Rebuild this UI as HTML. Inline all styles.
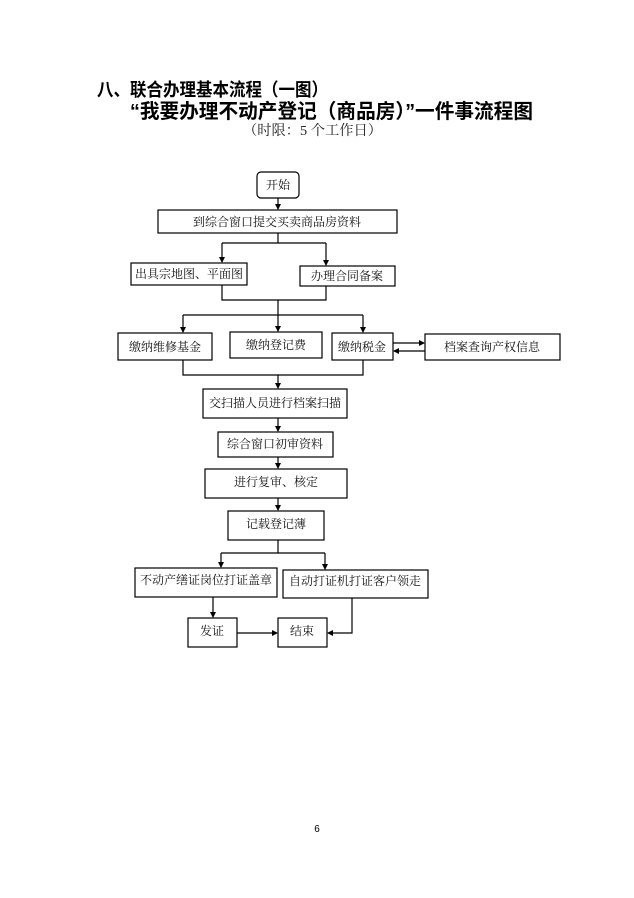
<!DOCTYPE html>
<html><head><meta charset="utf-8"><style>
html,body{margin:0;padding:0;background:#fff;}
svg{display:block}
.t{font-family:"Liberation Serif","Noto Serif CJK SC",serif;font-size:12px;fill:#111;text-anchor:middle}
.h{font-family:"Liberation Sans","Noto Sans CJK SC",sans-serif;font-weight:bold;fill:#000}
</style></head><body>
<svg width="634" height="898" viewBox="0 0 634 898" xmlns="http://www.w3.org/2000/svg">
<defs><marker id="a" markerWidth="6" markerHeight="6" refX="5" refY="3" orient="auto" markerUnits="userSpaceOnUse"><path d="M0,0 L6,3 L0,6 z" fill="#000"/></marker></defs>
<text class="h" x="97" y="96" font-size="18" textLength="231" lengthAdjust="spacingAndGlyphs">八、联合办理基本流程（一图）</text>
<text class="h" x="130" y="118" font-size="20" textLength="403" lengthAdjust="spacingAndGlyphs">“我要办理不动产登记（商品房）”一件事流程图</text>
<text x="243" y="135" font-size="14" textLength="139" lengthAdjust="spacingAndGlyphs" font-family="Liberation Serif,Noto Serif CJK SC,serif" fill="#222">（时限：5 个工作日）</text>
<g fill="none" stroke="#000" stroke-width="1.2">
<rect x="257" y="172" width="42" height="26" rx="4"/>
<rect x="158" y="210" width="239" height="23"/>
<rect x="131" y="263" width="116" height="22"/>
<rect x="300" y="266" width="95" height="20"/>
<rect x="118" y="333" width="94" height="27"/>
<rect x="230" y="332" width="92" height="26"/>
<rect x="332" y="333" width="61" height="27"/>
<rect x="425" y="334" width="135" height="26"/>
<rect x="203" y="389" width="144" height="29"/>
<rect x="218" y="432" width="115" height="25"/>
<rect x="205" y="469" width="142" height="29"/>
<rect x="228" y="511" width="96" height="29"/>
<rect x="135" y="568" width="142" height="29"/>
<rect x="283" y="570" width="145" height="28"/>
<rect x="188" y="618" width="49" height="29"/>
<rect x="278" y="618" width="49" height="29"/>
<path d="M278,198 V209" marker-end="url(#a)"/>
<path d="M278,233 V243 M222,243 H326"/>
<path d="M222,243 V262" marker-end="url(#a)"/>
<path d="M326,243 V265" marker-end="url(#a)"/>
<path d="M222,285 V300 H326 V286 M278,300 V315 M183,315 H363"/>
<path d="M183,315 V332" marker-end="url(#a)"/>
<path d="M278,315 V331" marker-end="url(#a)"/>
<path d="M363,315 V332" marker-end="url(#a)"/>
<path d="M393,343 H424" marker-end="url(#a)"/>
<path d="M425,351 H394" marker-end="url(#a)"/>
<path d="M183,360 V375 H363 V360"/>
<path d="M278,375 V388" marker-end="url(#a)"/>
<path d="M278,418 V431" marker-end="url(#a)"/>
<path d="M278,457 V468" marker-end="url(#a)"/>
<path d="M278,498 V510" marker-end="url(#a)"/>
<path d="M278,540 V553 M221,553 H325"/>
<path d="M221,553 V567" marker-end="url(#a)"/>
<path d="M325,553 V569" marker-end="url(#a)"/>
<path d="M213,597 V617" marker-end="url(#a)"/>
<path d="M237,633 H277" marker-end="url(#a)"/>
<path d="M352,598 V633 H328" marker-end="url(#a)"/>
</g>
<text class="t" x="278" y="189">开始</text>
<text class="t" x="277" y="226">到综合窗口提交买卖商品房资料</text>
<text class="t" x="189" y="278">出具宗地图、平面图</text>
<text class="t" x="347" y="280">办理合同备案</text>
<text class="t" x="165" y="351">缴纳维修基金</text>
<text class="t" x="276" y="349">缴纳登记费</text>
<text class="t" x="362" y="351">缴纳税金</text>
<text class="t" x="492" y="351">档案查询产权信息</text>
<text class="t" x="275" y="407">交扫描人员进行档案扫描</text>
<text class="t" x="275" y="448">综合窗口初审资料</text>
<text class="t" x="276" y="486">进行复审、核定</text>
<text class="t" x="276" y="528">记载登记薄</text>
<text class="t" x="206" y="584">不动产缮证岗位打证盖章</text>
<text class="t" x="355" y="585">自动打证机打证客户领走</text>
<text class="t" x="212" y="635">发证</text>
<text class="t" x="302" y="635">结束</text>
<text x="317" y="832" font-size="10" font-family="Liberation Sans,sans-serif" text-anchor="middle">6</text>
</svg>
</body></html>
